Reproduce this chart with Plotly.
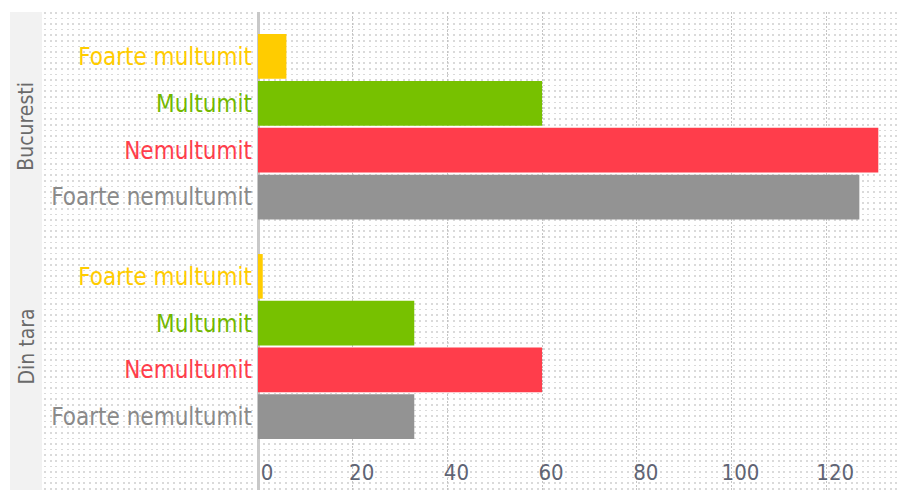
import plotly.graph_objects as go

categories = ["Foarte multumit", "Multumit", "Nemultumit", "Foarte nemultumit"]
groups = ["Bucuresti", "Din tara"]
bucuresti = [6, 60, 131, 127]
din_tara = [1, 33, 60, 33]
x_ticks = [0, 20, 40, 60, 80, 100, 120]

bar_colors = ["#ffcc00", "#77c100", "#ff3d4b", "#939393"]
label_colors = ["#ffcc00", "#72b800", "#ff3d4b", "#8a8a8a"]

# page body has an 8px margin: figure sized so it ends at the window edge
OFF = 8
W, H = 905 - OFF, 490 - OFF
FONT = "DejaVu Sans Condensed, DejaVu Sans, sans-serif"
TXT = "#5f6474"

def px(v):
    return v - OFF

# reference pixel geometry (window coordinates)
strip_l, strip_r = px(10), px(42)
x_zero = px(258)
top = px(12)
k = 4.735  # px per unit
xmax = (W - x_zero) / k
xmin_bg = -(x_zero - strip_r) / k

def ydom(top_px, bot_px):
    return [(H - px(bot_px)) / H, (H - px(top_px)) / H]

dom_top = ydom(33, 220.5)
dom_bot = ydom(253, 440)

fig = go.Figure()

# background subplot (dots + grid + axis line)
fig.add_trace(go.Scatter(x=[0], y=[0.5], mode="markers", marker=dict(opacity=0),
                         hoverinfo="skip", showlegend=False, xaxis="x", yaxis="y"))

ticktext = [f'<span style="color:{c}">{t}</span>' for t, c in zip(categories, label_colors)]

for vals, xa, ya in [(bucuresti, "x2", "y2"), (din_tara, "x3", "y3")]:
    fig.add_trace(go.Bar(x=vals, y=categories, orientation="h",
                         marker=dict(color=bar_colors, line=dict(width=0)),
                         xaxis=xa, yaxis=ya, showlegend=False))

yax_common = dict(type="category", categoryorder="array", categoryarray=categories[::-1],
                  tickmode="array", tickvals=categories, ticktext=ticktext,
                  tickfont=dict(size=24, family=FONT), ticks="", showgrid=False,
                  showline=False, zeroline=False, ticklabelstandoff=5)

fig.update_layout(
    width=W, height=H,
    margin=dict(l=0, r=0, t=0, b=0),
    paper_bgcolor="white",
    plot_bgcolor="rgba(0,0,0,0)",
    bargap=0.045,
    font=dict(family=FONT, color=TXT),
    xaxis=dict(domain=[strip_r / W, 1], range=[xmin_bg, xmax],
               tickmode="array", tickvals=x_ticks, ticktext=[str(v) for v in x_ticks],
               showgrid=True, gridcolor="#c4c4c4", gridwidth=1, griddash="2px,1.5px",
               zeroline=True, zerolinecolor="#c8c8c8", zerolinewidth=3,
               showline=False, ticks="",
               ticklabelposition="inside", ticklabelshift=9, ticklabelstandoff=3,
               tickfont=dict(size=22, color=TXT, family=FONT),
               minor=dict(tick0=0, dtick=5.6 / k, showgrid=True, gridcolor="#dadada",
                          gridwidth=1.5, griddash="1.5px,4.1px"),
               fixedrange=True),
    yaxis=dict(domain=[0, (H - top) / H], range=[0, 1], visible=False, fixedrange=True),
    xaxis2=dict(domain=[x_zero / W, 1], range=[0, xmax], visible=False, anchor="y2"),
    xaxis3=dict(domain=[x_zero / W, 1], range=[0, xmax], visible=False, anchor="y3"),
    yaxis2=dict(domain=dom_top, anchor="x2", **yax_common),
    yaxis3=dict(domain=dom_bot, anchor="x3", **yax_common),
)

fig.add_shape(type="rect", xref="paper", yref="paper",
              x0=strip_l / W, x1=strip_r / W, y0=0, y1=(H - top) / H,
              fillcolor="#f2f2f2", line=dict(width=0), layer="below")

for g, dom in zip(groups, [dom_top, dom_bot]):
    fig.add_annotation(text=g, xref="paper", yref="paper",
                       x=(strip_l + strip_r) / 2 / W, y=(dom[0] + dom[1]) / 2,
                       textangle=-90, showarrow=False,
                       font=dict(size=21, color="#6a6a6a", family=FONT),
                       xanchor="center", yanchor="middle")

fig.write_html("out.html")
